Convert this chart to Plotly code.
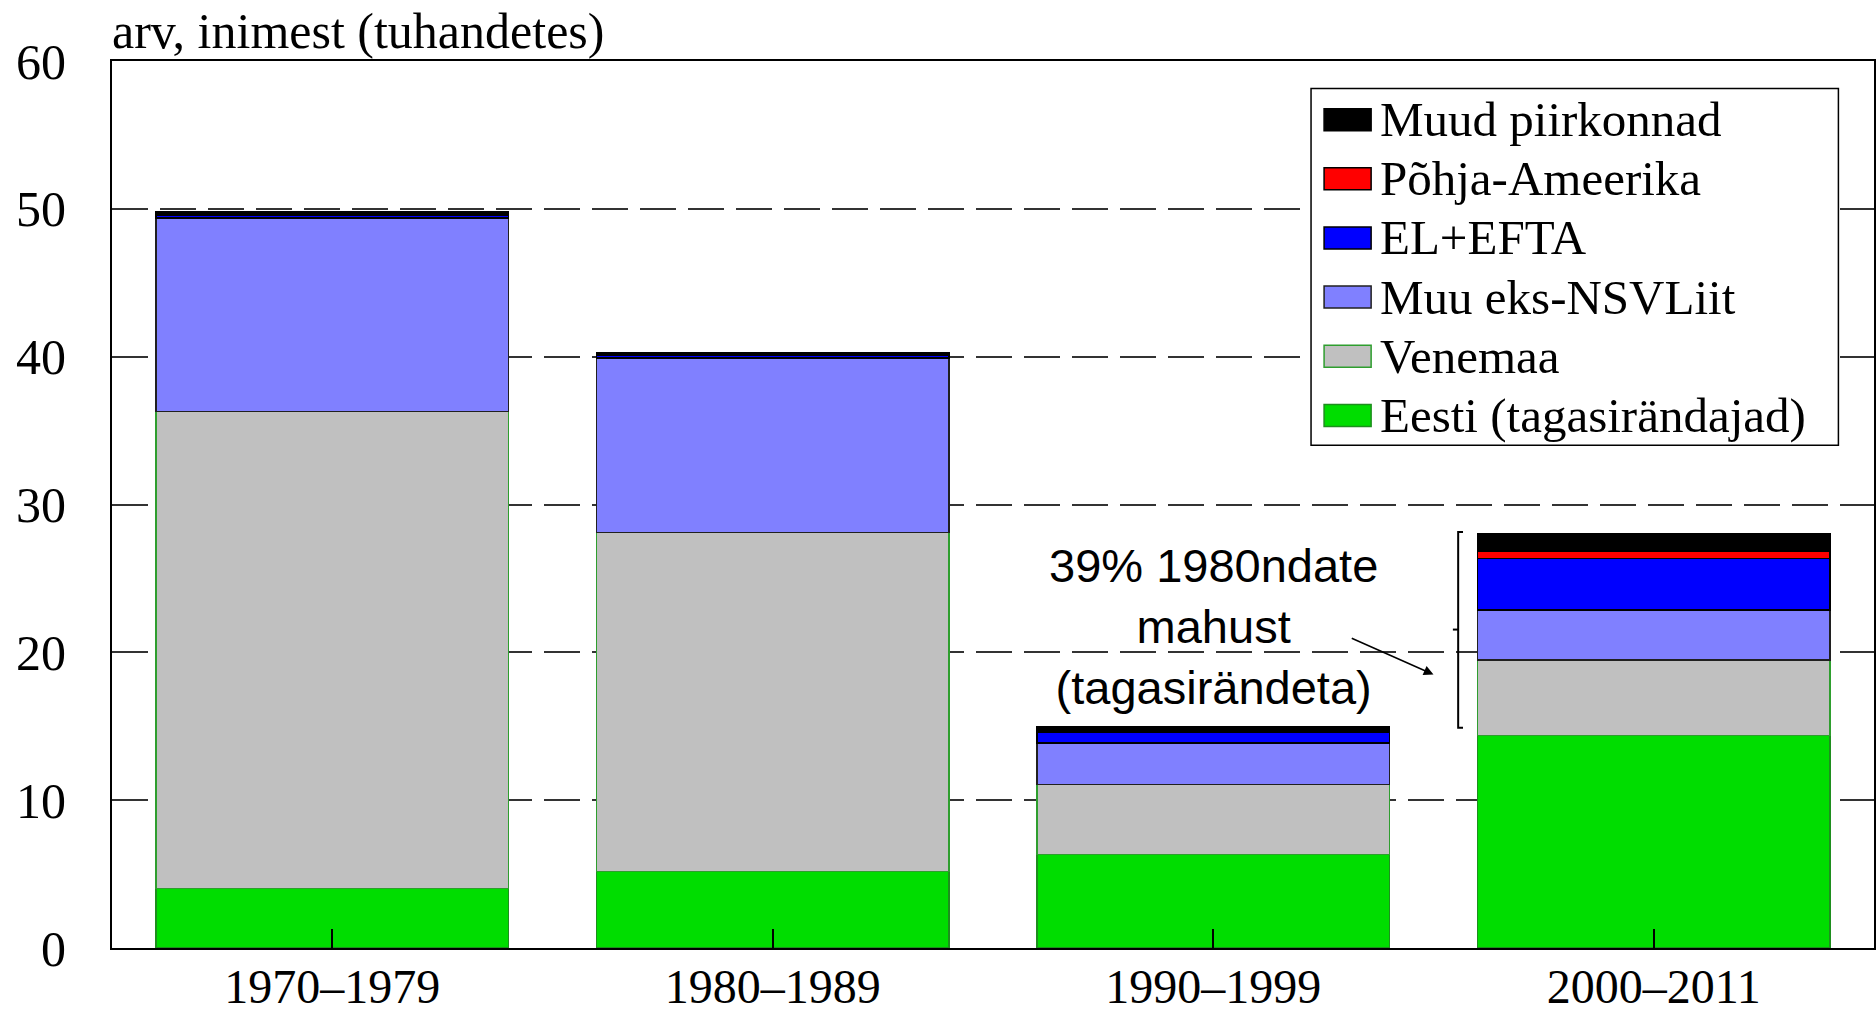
import plotly.graph_objects as go

# ---------------- data (thousands of people) ----------------
periods = ["1970–1979", "1980–1989", "1990–1999", "2000–2011"]

eesti_tagasirandajad = [4.0, 5.2, 6.3, 14.4]
venemaa = [32.3, 22.9, 4.75, 5.1]
muu_eks_nsvliit = [13.1, 11.8, 2.8, 3.35]
el_efta = [0.2, 0.2, 0.75, 3.5]
pohja_ameerika = [0.05, 0.05, 0.0, 0.5]
muud_piirkonnad = [0.15, 0.1, 0.35, 1.15]

series_names = ["Eesti (tagasirändajad)", "Venemaa", "Muu eks-NSVLiit",
                "EL+EFTA", "Põhja-Ameerika", "Muud piirkonnad"]
series_values = [eesti_tagasirandajad, venemaa, muu_eks_nsvliit,
                 el_efta, pohja_ameerika, muud_piirkonnad]

y_ticks = [0, 10, 20, 30, 40, 50, 60]

y_title = "arv, inimest (tuhandetes)"
note_text = "39% 1980ndate<br>mahust<br>(tagasirändeta)"

# ---------------- styles ----------------
fills = ["#00DD00", "#C0C0C0", "#8080FF", "#0000FF", "#FF0000", "#000000"]
edges = ["#1E8E1E", "#2E9E2E", "#202020", "#000000", "#000000", "#000000"]
edge_w = [1.2, 1.2, 1.6, 1.6, 1.6, 1.6]

SERIF = "Liberation Serif, Times New Roman, serif"
SANS = "Liberation Sans, Arial, sans-serif"

fig = go.Figure()
for name, vals, fc, ec, w in zip(series_names, series_values, fills, edges, edge_w):
    fig.add_trace(go.Bar(
        x=periods, y=vals, name=name,
        marker=dict(color=fc, line=dict(color=ec, width=w)),
        showlegend=False,
    ))

shapes = []
annotations = []

# ---- manual legend (wide swatches like the original) ----
box = dict(x0=0.6805, x1=0.9798, y0=0.5669, y1=0.969)
shapes.append(dict(type="rect", xref="paper", yref="paper", **box,
                   line=dict(color="black", width=1.5), fillcolor="white",
                   layer="above"))
row_top = 0.9339
row_step = 0.0667
sw_half = 0.0124
order = list(range(len(series_names)))[::-1]
for i, k in enumerate(order):
    yc = row_top - i * row_step
    shapes.append(dict(type="rect", xref="paper", yref="paper",
                       x0=0.6879, x1=0.7146, y0=yc - sw_half, y1=yc + sw_half,
                       fillcolor=fills[k], line=dict(color=edges[k], width=1.5),
                       layer="above"))
    annotations.append(dict(xref="paper", yref="paper", x=0.7185, y=yc,
                            xanchor="left", yanchor="middle", showarrow=False,
                            text=series_names[k],
                            font=dict(family=SERIF, size=49, color="black")))

# ---- axis title at top-left ----
annotations.append(dict(xref="paper", yref="paper", x=-0.001, y=1.0677,
                        xanchor="left", yanchor="top", showarrow=False,
                        text=y_title,
                        font=dict(family=SERIF, size=50, color="black")))

# ---- note + arrow + bracket ----
annotations.append(dict(xref="x", yref="y", x=2.0, y=21.78,
                        xanchor="center", yanchor="middle", showarrow=False,
                        text=note_text,
                        font=dict(family=SANS, size=47, color="black")))
annotations.append(dict(xref="x", yref="y", x=2.5, y=18.5,
                        axref="x", ayref="y", ax=2.311, ay=21.0,
                        text="", showarrow=True, arrowhead=2, arrowsize=1.3,
                        arrowwidth=1.5, arrowcolor="black"))
shapes.append(dict(type="path", xref="x", yref="y",
                   path="M 2.567,28.14 L 2.556,28.14 L 2.556,14.9 L 2.567,14.9",
                   line=dict(color="black", width=2)))
shapes.append(dict(type="path", xref="x", yref="y",
                   path="M 2.556,21.54 L 2.544,21.54",
                   line=dict(color="black", width=2)))

fig.update_layout(
    width=1876, height=1016,
    margin=dict(l=112, r=2, t=61, b=68),
    barmode="stack", bargap=0.2,
    plot_bgcolor="white", paper_bgcolor="white",
    shapes=shapes, annotations=annotations,
    showlegend=False,
)
fig.update_xaxes(
    type="category", range=[-0.5, 3.5], automargin=False,
    showline=True, mirror=True, linecolor="black", linewidth=2,
    ticks="inside", ticklen=19, tickwidth=1.5, tickcolor="black",
    tickfont=dict(family=SERIF, size=48, color="black"),
    ticklabelstandoff=-5, showgrid=False,
)
fig.update_yaxes(
    range=[0, 60], tickvals=y_ticks, automargin=False,
    showline=True, mirror=True, linecolor="black", linewidth=2,
    showgrid=True, gridcolor="#333333", gridwidth=1.5, griddash="36px,12px",
    zeroline=False, ticks="",
    tickfont=dict(family=SERIF, size=50, color="black"),
    ticklabelstandoff=34,
)

fig.write_html("out.html", config={"displayModeBar": False},
               post_script="document.body.style.margin='0';document.body.style.overflow='hidden';")
